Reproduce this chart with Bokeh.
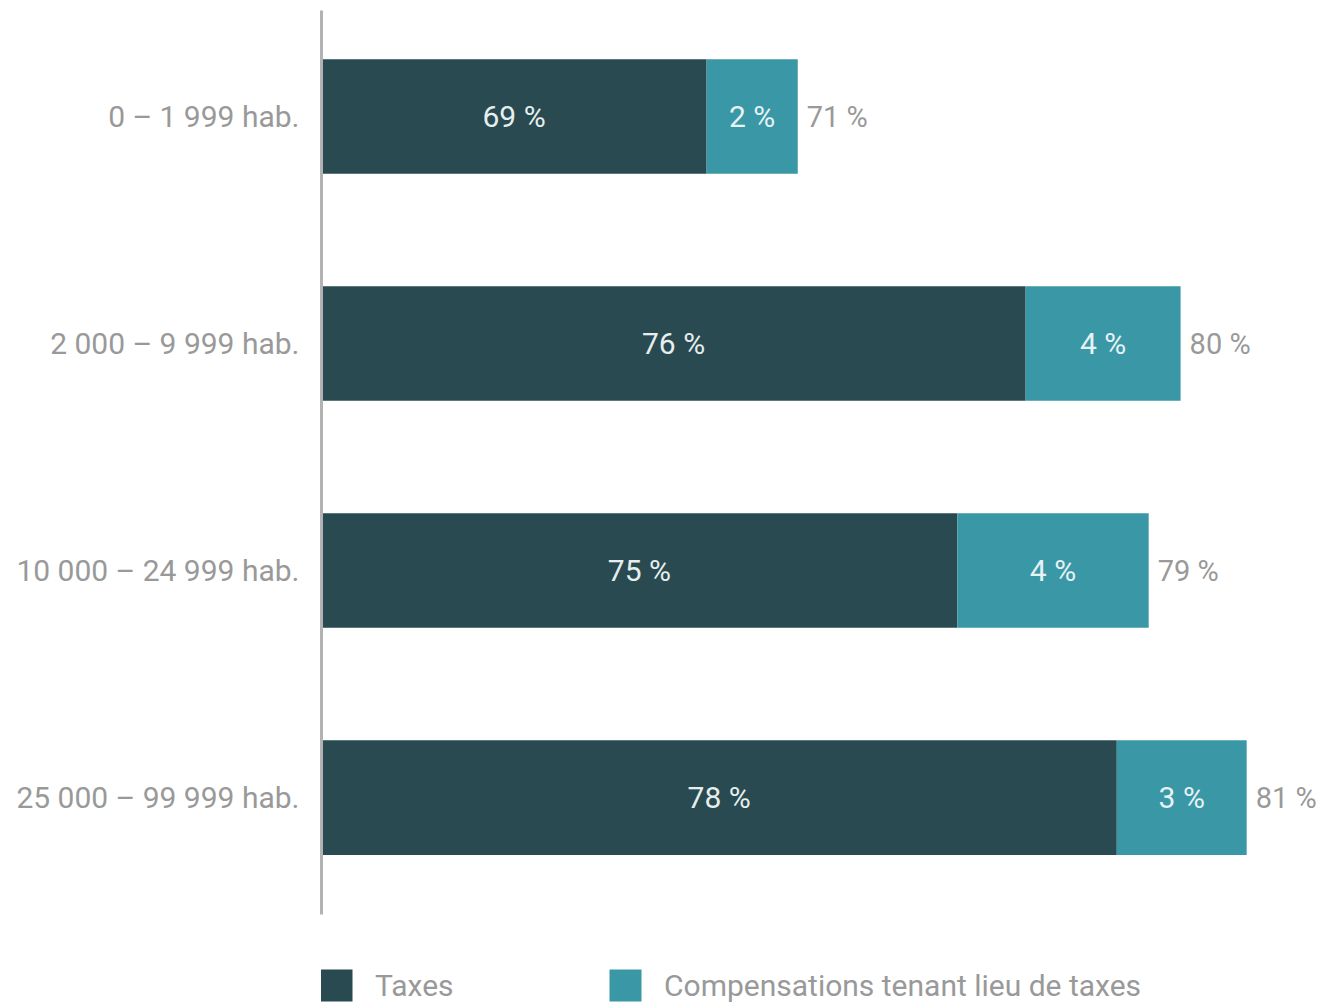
from bokeh.plotting import figure
from bokeh.models import ColumnDataSource, Range1d, FixedTicker, Legend, LegendItem
from bokeh.core.properties import value
from bokeh.embed import file_html
from bokeh.resources import INLINE

categories = ["0 – 1 999 hab.", "2 000 – 9 999 hab.", "10 000 – 24 999 hab.", "25 000 – 99 999 hab."]
taxes = [69.0, 76.0, 74.5, 78.0]
compensations = [2.0, 3.4, 4.2, 2.85]
taxes_labels = ["69 %", "76 %", "75 %", "78 %"]
comp_labels = ["2 %", "4 %", "4 %", "3 %"]
total_labels = ["71 %", "80 %", "79 %", "81 %"]

X_START = 60.55
X_END = 82.47
Y_TOP = -0.467
Y_AXIS_END = 3.515
Y_BOTTOM = 3.916
DARK = "#284a50"
TEAL = "#3a97a6"
GRAY = "#999999"
FONT = "Roboto"

pos = list(range(len(categories)))
totals = [t + c for t, c in zip(taxes, compensations)]
src = ColumnDataSource(dict(
    y=pos,
    taxes=taxes,
    totals=totals,
    tax_mid=[(X_START + t) / 2 for t in taxes],
    comp_mid=[t + c / 2 for t, c in zip(taxes, compensations)],
    tl=taxes_labels, cl=comp_labels, tot=total_labels,
))

p = figure(frame_width=999, frame_height=995, output_backend="svg", toolbar_location=None,
           x_range=Range1d(X_START, X_END), y_range=Range1d(Y_BOTTOM, Y_TOP),
           min_border_left=321, min_border_right=0, min_border_top=10, min_border_bottom=0)
p.outline_line_color = None
p.grid.visible = False
p.xaxis.visible = False

p.yaxis.ticker = FixedTicker(ticks=pos)
p.yaxis.bounds = (Y_TOP, Y_AXIS_END)
p.yaxis.major_label_overrides = {i: c for i, c in enumerate(categories)}
p.yaxis.major_tick_line_color = None
p.yaxis.minor_tick_line_color = None
p.yaxis.axis_line_color = "#b3b3b3"
p.yaxis.axis_line_width = 3
p.yaxis.major_label_text_font = FONT
p.yaxis.major_label_text_font_size = "30px"
p.yaxis.major_label_text_color = GRAY
p.yaxis.major_label_standoff = 16

r1 = p.hbar(y="y", left=0, right="taxes", height=0.505, source=src, color=DARK, line_color=None)
r2 = p.hbar(y="y", left="taxes", right="totals", height=0.505, source=src, color=TEAL, line_color=None)

p.text(x="tax_mid", y="y", text="tl", source=src, text_align="center", text_baseline="middle",
       text_font=value(FONT), text_font_size="30px", text_color="#e6eeee")
p.text(x="comp_mid", y="y", text="cl", source=src, text_align="center", text_baseline="middle",
       text_font=value(FONT), text_font_size="30px", text_color="#e6f2f4")
p.text(x="totals", y="y", text="tot", source=src, text_align="left", text_baseline="middle",
       x_offset=9, text_font=value(FONT), text_font_size="29px", text_color=GRAY)

legend = Legend(items=[LegendItem(label="Taxes", renderers=[r1]),
                       LegendItem(label="Compensations tenant lieu de taxes", renderers=[r2])],
                orientation="horizontal", location=(-5, 0))
legend.glyph_width = 40
legend.glyph_height = 40
legend.label_standoff = 19
legend.label_width = 198
legend.spacing = 32
legend.padding = 0
legend.margin = 0
legend.border_line_color = None
legend.background_fill_alpha = 0
legend.label_text_font = FONT
legend.label_text_font_size = "30px"
legend.label_text_color = GRAY
legend.label_height = 40
p.add_layout(legend, "center")

open("out.html", "w").write(file_html(p, INLINE))
